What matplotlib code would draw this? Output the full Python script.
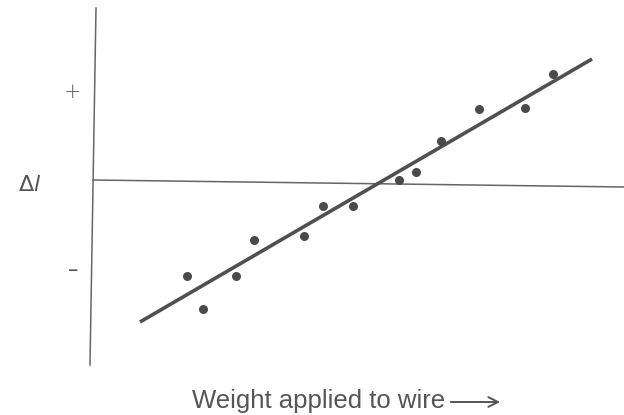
import matplotlib
matplotlib.use("Agg")
import matplotlib.pyplot as plt

# measured points: weight applied (arbitrary units) and change in length
weight = [9.4, 11.0, 14.3, 16.1, 21.1, 23.0, 26.0, 30.6, 32.3, 34.8, 38.6, 43.2, 46.0]
delta_l = [-9.6, -12.9, -9.6, -6.0, -5.6, -2.6, -2.6, 0.0, 0.8, 3.9, 7.1, 7.2, 10.6]

# straight line drawn through the points (end points)
fit_x = [4.7, 49.9]
fit_y = [-14.2, 12.1]

# axis lines (the scan is slightly skewed)
vaxis_x = [0.3, -0.3]
vaxis_y = [17.2, -18.5]
haxis_x = [0.0, 53.1]
haxis_y = [0.0, -0.7]

ink = "#4a4a4a"

fig = plt.figure(figsize=(6.24, 4.15), dpi=100)
ax = fig.add_axes([0, 0, 1, 1])
ax.set_xlim(-9.3, 53.1)
ax.set_ylim(-23.5, 18.0)
ax.axis("off")

ax.plot(vaxis_x, vaxis_y, color="#666666", lw=1.1)
ax.plot(haxis_x, haxis_y, color="#666666", lw=1.1)

ax.plot(fit_x, fit_y, color="#505050", lw=2.6, solid_capstyle="butt")
ax.plot(weight, delta_l, "o", color=ink, markersize=6.5, markeredgewidth=0)

ax.text(-2.0, 8.8, "+", fontsize=15, color="#555555", ha="center", va="center",
        family="DejaVu Sans", fontweight="light")
ax.text(-2.0, -9.0, "\u2013", fontsize=15, color="#555555", ha="center", va="center",
        family="DejaVu Sans")
ax.text(-6.3, -0.5, r"$\Delta l$", fontsize=16, color="#555555", ha="center", va="center")

fig.text(192 / 624, 1 - 401 / 415, "Weight applied to wire", fontsize=18.5,
         color="#555555", ha="left", va="center", family="Liberation Sans")
fig.patches.append(matplotlib.patches.FancyArrowPatch(
    (448 / 624, 1 - 402 / 415), (503 / 624, 1 - 402 / 415),
    transform=fig.transFigure, arrowstyle="->,head_length=7,head_width=3.5",
    color="#555555", lw=1.4))

fig.savefig("out.png", dpi=100)
